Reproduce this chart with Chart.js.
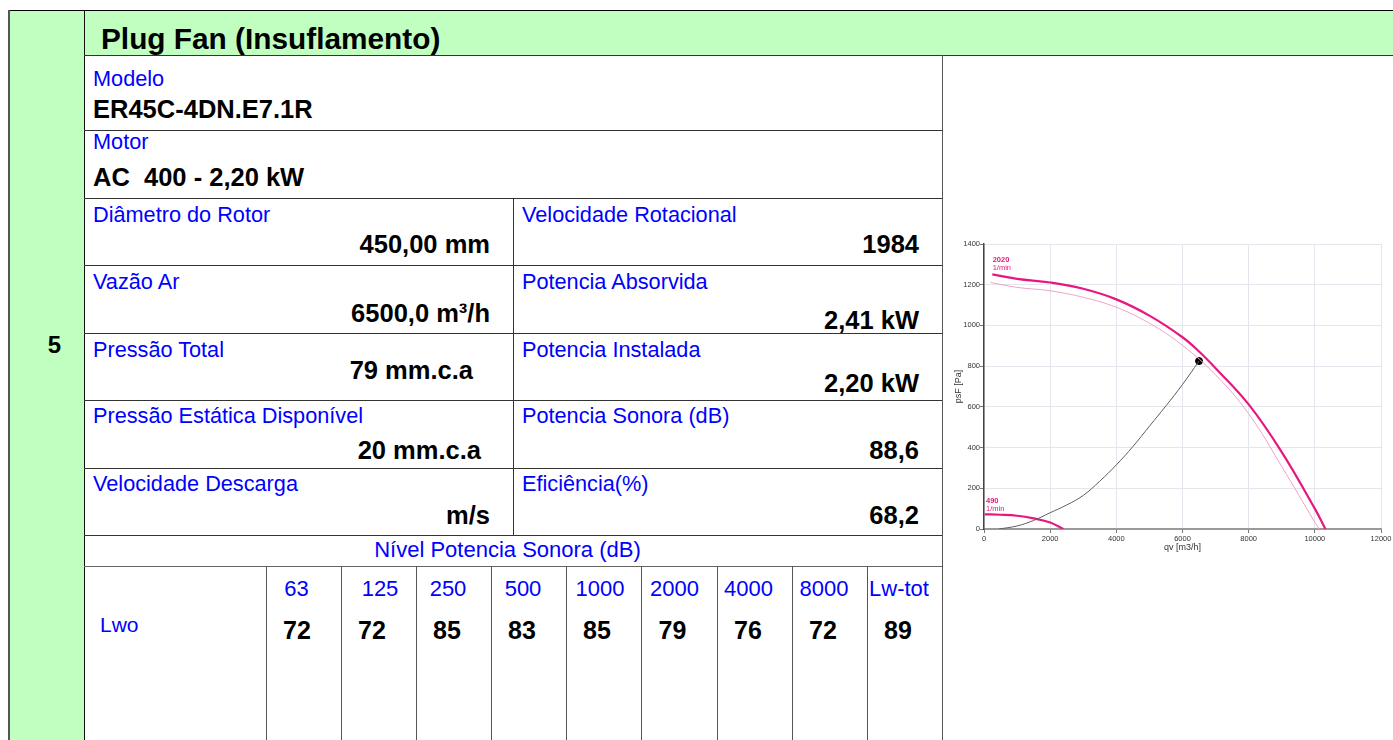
<!DOCTYPE html>
<html><head><meta charset="utf-8">
<script src="https://cdn.jsdelivr.net/npm/chart.js@4"></script>
<style>
html,body{margin:0;padding:0;background:#fff;}
body{width:1393px;height:740px;overflow:hidden;position:relative;font-family:"Liberation Sans",Arial,sans-serif;}
.bx{position:absolute;}
.t{position:absolute;white-space:pre;line-height:1;}
.b{font-weight:bold;color:#000;}
.u{color:#0000ff;}
#cw{position:absolute;left:940px;top:236px;width:453px;height:330px;}
</style></head><body>
<div id="page"></div>
<div id="cw"><canvas id="c"></canvas></div>
<script>
// ---- chart data (qv in m3/h, psF in Pa) ----
const fan2020Q = [250, 1000, 2000, 3000, 4000, 5000, 6000, 6500, 7000, 8000, 9000, 10000, 10320];
const fan2020P = [1251, 1229, 1211, 1180, 1128, 1048, 942, 872, 790, 612, 378, 100, 0];
const fan2020ThinQ = [200, 1000, 2000, 3000, 4000, 5000, 6000, 7000, 8000, 9000, 10000, 10130];
const fan2020ThinP = [1211, 1187, 1170, 1138, 1089, 1011, 902, 757, 566, 307, 33, 0];
const fan490Q = [20, 500, 1000, 1500, 2000, 2400];
const fan490P = [72, 70, 65, 52, 32, 0];
const systemQ = [450, 1000, 1500, 2000, 2500, 3000, 3500, 4000, 4500, 5000, 5500, 6000, 6500];
const systemP = [0, 15, 42, 80, 118, 165, 235, 315, 405, 505, 605, 710, 825];
const opQ = [6500];
const opP = [825];
const curveLabelText = ['2020', '1/min', '490', '1/min'];
const curveLabelQ = [263, 263, 60, 60];
const curveLabelP = [1310, 1272, 129, 88];
const curveLabelBold = [true, false, true, false];
const xTickStep = 2000, xMax = 12000, yTickStep = 200, yMax = 1400;

// ---- table content ----
const page = document.getElementById('page');
function box(l, t, w, h, c) {
  const d = document.createElement('div');
  d.className = 'bx';
  d.style.cssText = `left:${l}px;top:${t}px;width:${w}px;height:${h}px;background:${c};`;
  page.appendChild(d);
}
function T(txt, x, base, size, cls, align) {
  const d = document.createElement('div');
  d.className = 't ' + cls;
  d.style.fontSize = size + 'px';
  d.textContent = txt;
  d.style.top = (base - 0.8465 * size) + 'px';
  if (align === 'r') { d.style.right = (1393 - x) + 'px'; }
  else if (align === 'c') { d.style.left = (x - 300) + 'px'; d.style.width = '600px'; d.style.textAlign = 'center'; }
  else d.style.left = x + 'px';
  page.appendChild(d);
}
const GREEN = '#c0ffc0', LINE = '#333';
box(8, 10, 76, 730, GREEN);
box(84, 10, 1309, 45, GREEN);
box(8, 10, 1385, 1, '#000');
box(8, 10, 2, 730, '#555');
box(84, 10, 1, 730, '#111');
box(84, 55, 1309, 1, LINE);
box(942, 55, 1, 685, '#555');
box(513, 198, 1, 337, LINE);
[130, 198, 265, 333, 400, 468, 535].forEach(y => box(84, y, 858, 1, LINE));
box(84, 566, 858, 1, '#666');
const bandCols = [266, 341, 416, 491, 566, 641, 717, 792, 867];
bandCols.forEach(x => box(x, 566, 1, 174, '#555'));

T('Plug Fan (Insuflamento)', 101, 49, 29.8, 'b');
T('5', 54.5, 353, 24, 'b', 'c');
const LS = 21.7, VS = 25.5;
T('Modelo', 93, 86, LS, 'u');
T('ER45C-4DN.E7.1R', 93, 119, VS, 'b');
T('Motor', 93, 149, LS, 'u');
T('AC  400 - 2,20 kW', 93, 187, VS, 'b');
T('Diâmetro do Rotor', 93, 222, LS, 'u');
T('Velocidade Rotacional', 522, 222, LS, 'u');
T('450,00 mm', 490, 254, VS, 'b', 'r');
T('1984', 919, 254, VS, 'b', 'r');
T('Vazão Ar', 93, 289, LS, 'u');
T('Potencia Absorvida', 522, 289, LS, 'u');
T('6500,0 m³/h', 490, 323, VS, 'b', 'r');
T('2,41 kW', 919, 330, VS, 'b', 'r');
T('Pressão Total', 93, 357, LS, 'u');
T('Potencia Instalada', 522, 357, LS, 'u');
T('79 mm.c.a', 473, 380, VS, 'b', 'r');
T('2,20 kW', 919, 393, VS, 'b', 'r');
T('Pressão Estática Disponível', 93, 423, LS, 'u');
T('Potencia Sonora (dB)', 522, 423, LS, 'u');
T('20 mm.c.a', 481, 460, VS, 'b', 'r');
T('88,6', 919, 460, VS, 'b', 'r');
T('Velocidade Descarga', 93, 491, LS, 'u');
T('Eficiência(%)', 522, 491, LS, 'u');
T('m/s', 490, 525, VS, 'b', 'r');
T('68,2', 919, 525, VS, 'b', 'r');
T('Nível Potencia Sonora (dB)', 507.5, 558, 22, 'u', 'c');
T('Lwo', 100, 632, 21, 'u');
const bandHeads = ['63', '125', '250', '500', '1000', '2000', '4000', '8000', 'Lw-tot'];
const bandVals = ['72', '72', '85', '83', '85', '79', '76', '72', '89'];
const headShift = [-7, 1.5, -5.5, -5.5, -3.5, -4.5, -6, -5.5, -5.5];
for (let i = 0; i < 9; i++) {
  const cx = (bandCols[i] + (i < 8 ? bandCols[i + 1] : 942)) / 2;
  T(bandHeads[i], cx + headShift[i], 597, 22, 'u', 'c');
  T(bandVals[i], cx - 6.5, 639, 25, 'b', 'c');
}

// ---- chart ----
const pts = (q, p) => q.map((v, i) => ({x: v, y: p[i]}));
const FONT = '"Liberation Sans", Arial, sans-serif';
const labelPlugin = {
  id: 'curveLabels',
  afterDatasetsDraw(chart) {
    const {ctx, scales: {x, y}} = chart;
    ctx.save();
    ctx.fillStyle = '#e6187f';
    ctx.textBaseline = 'alphabetic';
    ctx.textAlign = 'left';
    curveLabelText.forEach((t, i) => {
      ctx.font = (curveLabelBold[i] ? 'bold ' : '') + '7.5px ' + FONT;
      ctx.fillText(t, x.getPixelForValue(curveLabelQ[i]), y.getPixelForValue(curveLabelP[i]));
    });
    ctx.restore();
  }
};
const line = (q, p, color, w) => ({data: pts(q, p), showLine: true, borderColor: color, borderWidth: w,
  pointRadius: 0, tension: 0.4, fill: false});
const plain = v => String(v);
new Chart(document.getElementById('c'), {
  type: 'scatter',
  data: {datasets: [
    line(systemQ, systemP, '#5e5e5e', 1),
    line(fan2020ThinQ, fan2020ThinP, '#f3a0c9', 1),
    line(fan2020Q, fan2020P, '#e6187f', 2.2),
    line(fan490Q, fan490P, '#e6187f', 2.2),
    {data: pts(opQ, opP), pointRadius: 3.5, backgroundColor: '#000', borderColor: '#000', showLine: false}
  ]},
  options: {
    responsive: true, maintainAspectRatio: false, animation: false, events: [],
    layout: {padding: {top: 8, right: 12, left: 0, bottom: 0}},
    plugins: {legend: {display: false}, tooltip: {enabled: false}},
    scales: {
      x: {type: 'linear', min: 0, max: xMax,
        afterFit(s) { s.height = 37; },
        ticks: {stepSize: xTickStep, callback: plain, color: '#333', font: {size: 7.5, family: FONT}, padding: 1, maxRotation: 0, autoSkip: false},
        grid: {color: '#e3e6ed', tickColor: '#777', tickLength: 4},
        border: {color: '#9a9a9a', width: 2},
        title: {display: true, text: 'qv [m3/h]', color: '#333', font: {size: 9, family: FONT}, padding: {top: 0, bottom: 12.6}}
      },
      y: {type: 'linear', min: 0, max: yMax,
        afterFit(s) { s.width = 44; },
        ticks: {stepSize: yTickStep, callback: plain, color: '#333', font: {size: 7.5, family: FONT}, padding: 0},
        grid: {color: '#e3e6ed', tickColor: '#777', tickLength: 4},
        border: {color: '#444', width: 1.5},
        title: {display: true, text: 'psF [Pa]', color: '#333', font: {size: 9, family: FONT}, padding: {top: 13, bottom: 0}}
      }
    }
  },
  plugins: [labelPlugin]
});
</script>
</body></html>
